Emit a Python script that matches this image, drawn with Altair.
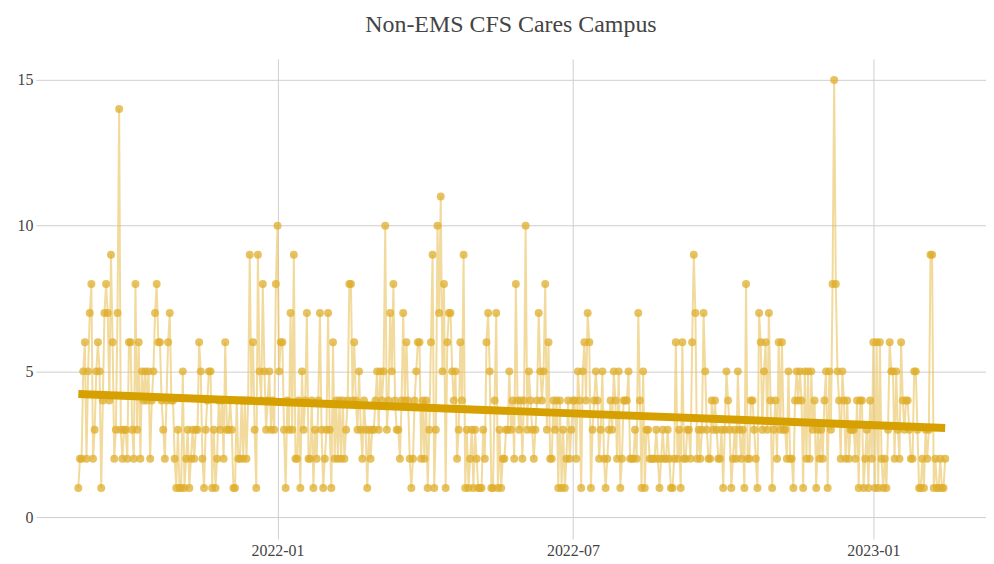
import altair as alt
import pandas as pd

# ---- data ----
start_date = "2021-09-01"  # first daily point
values = [
    # 2021-09-01 .. 2021-12-11
    1, 2, 2, 5, 6, 2, 5, 7, 8, 2, 3, 5, 6, 5, 1, 4, 7, 8, 7, 4,
    9, 6, 2, 3, 7, 14, 3, 2, 3, 3, 2, 6, 6, 3, 2, 8, 3, 6, 2, 5,
    4, 5, 4, 5, 2, 4, 5, 7, 8, 6, 6, 4, 3, 2, 4, 6, 7, 4, 4, 2,
    1, 3, 1, 1, 5, 1, 2, 3, 1, 2, 3, 2, 3, 3, 6, 5, 2, 1, 3, 4,
    5, 5, 1, 3, 1, 2, 4, 3, 4, 2, 6, 3, 3, 4, 3, 1, 1, 4, 2, 2,
    4, 2,
    # 2021-12-12 .. 2022-03-31
    4, 2, 4, 9, 4, 6, 3, 1, 9, 5, 4, 8, 5, 3, 4, 5, 3, 4, 3, 8,
    10, 5, 6, 6, 3, 1, 4, 3, 7, 3, 9, 2, 2, 4, 1, 5, 3, 4, 7, 2,
    2, 4, 1, 3, 2, 4, 7, 3, 1, 2, 3, 7, 3, 1, 6, 2, 4, 2, 4, 2,
    4, 2, 3, 4, 8, 8, 4, 6, 4, 3, 5, 3, 2, 4, 3, 1, 3, 2, 3, 3,
    4, 5, 3, 5, 4, 5, 10, 3, 4, 7, 5, 8, 4, 3, 3, 2, 4, 7, 4, 6,
    4, 2, 1, 2, 4, 5, 6, 6, 2, 4,
    # 2022-04-01 .. 2022-07-16
    2, 4, 1, 3, 6, 9, 1, 3, 10, 7, 11, 5, 8, 1, 6, 7, 7, 5, 4, 5,
    2, 3, 6, 4, 9, 1, 3, 1, 2, 3, 1, 3, 2, 1, 1, 1, 3, 2, 6, 7,
    5, 1, 1, 4, 7, 1, 3, 1, 2, 2, 3, 3, 5, 3, 4, 2, 8, 4, 3, 4,
    2, 4, 10, 3, 5, 4, 3, 2, 3, 4, 7, 5, 4, 5, 8, 3, 6, 2, 2, 4,
    3, 4, 1, 4, 1, 3, 1, 2, 4, 2, 3, 4, 4, 2, 5, 4, 1, 5, 6, 4,
    7, 6, 1, 3, 4, 5, 4,
    # 2022-07-17 .. 2022-10-31
    2, 3, 5, 2, 1, 2, 3, 4, 3, 5, 4, 2, 5, 1, 2, 4, 4, 4, 5, 2,
    2, 2, 3, 2, 7, 4, 1, 5, 1, 3, 3, 2, 2, 2, 2, 3, 2, 1, 2, 3,
    2, 2, 3, 2, 1, 1, 2, 6, 2, 3, 1, 6, 2, 2, 3, 3, 2, 6, 9, 7,
    2, 3, 2, 3, 7, 5, 3, 2, 2, 4, 3, 4, 3, 2, 2, 3, 1, 3, 5, 4,
    3, 1, 2, 3, 2, 5, 3, 2, 3, 1, 8, 2, 2, 4, 4, 3, 2, 1, 7, 6,
    3, 5, 6, 3, 7, 4, 1,
    # 2022-11-01 .. 2023-02-14
    3, 4, 2, 6, 3, 6, 3, 3, 2, 5, 2, 2, 1, 4, 5, 4, 5, 4, 1, 5,
    2, 5, 2, 5, 3, 4, 1, 3, 2, 3, 2, 4, 5, 1, 5, 3, 8, 15, 8, 5,
    4, 2, 5, 4, 2, 4, 2, 3, 3, 3, 2, 4, 1, 4, 4, 1, 2, 3, 1, 4,
    2, 6, 1, 6, 1, 6, 2, 1, 2, 1, 3, 6, 5, 5, 2, 5, 3, 2, 6, 4,
    3, 4, 4, 3, 2, 2, 5, 5, 3, 1, 1, 2, 1, 3, 2, 3, 9, 9, 1, 2,
    1, 1, 2, 1, 1, 2,
]
trend_dates = ["2021-09-01", "2023-02-14"]
trend_values = [4.22, 3.06]
x_tick_dates = ["2022-01-01", "2022-07-01", "2023-01-01"]
x_domain_dates = ["2021-08-06", "2023-03-11"]
y_ticks = [0, 5, 10, 15]
y_domain = [-0.75, 15.72]
title_text = "Non-EMS CFS Cares Campus"

# ---- styles ----
line_color = "#e8c25a"
dot_color = "#dfae2c"
trend_color = "#d6a000"
grid_color = "#cfcfcf"
text_color = "#444444"
font = "Liberation Serif"


def ms(s):
    return int(pd.Timestamp(s, tz="UTC").value // 10**6)


dates = pd.date_range(start_date, periods=len(values), freq="D").strftime("%Y-%m-%d")
df = pd.DataFrame({"date": dates, "value": values})
trend = pd.DataFrame({"date": trend_dates, "value": trend_values})

x_enc = alt.X(
    "date:T",
    scale=alt.Scale(type="utc", domain=[ms(d) for d in x_domain_dates]),
    axis=alt.Axis(
        values=[ms(d) for d in x_tick_dates],
        labelExpr="utcFormat(datum.value, '%Y-%m')",
        title=None,
        grid=True,
        labelPadding=4,
    ),
)
y_enc = alt.Y(
    "value:Q",
    scale=alt.Scale(domain=y_domain, nice=False, zero=False),
    axis=alt.Axis(values=y_ticks, title=None, grid=True, labelPadding=3),
)

base = alt.Chart(df).encode(x=x_enc, y=y_enc)
line = base.mark_line(color=line_color, strokeWidth=2, opacity=0.6)
points = base.mark_circle(color=dot_color, size=64, opacity=0.75)
trend_line = alt.Chart(trend).mark_line(color=trend_color, strokeWidth=8, strokeCap="butt").encode(
    x=alt.X("date:T"), y=alt.Y("value:Q")
)

chart = (
    alt.layer(line, points, trend_line)
    .properties(
        width=954,
        height=482,
        autosize=alt.AutoSizeParams(type="none"),
        padding={"left": 28, "top": 50, "right": 0, "bottom": 22},
        title=alt.TitleParams(
            title_text,
            font=font,
            fontSize=24,
            fontWeight="normal",
            color=text_color,
            anchor="middle",
            offset=22,
        ),
        background="white",
    )
    .configure_view(stroke=None)
    .configure_axis(
        domain=False,
        ticks=False,
        gridColor=grid_color,
        gridWidth=1,
        labelFont=font,
        labelFontSize=16,
        labelColor=text_color,
    )
)

chart.save("out.html", embed_options={"renderer": "svg", "actions": False})
